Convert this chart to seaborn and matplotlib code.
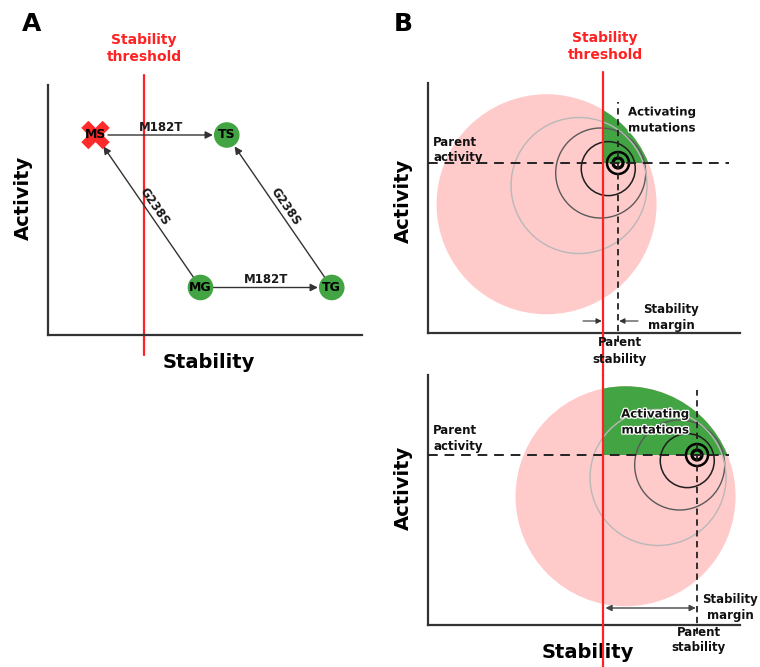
import numpy as np
import matplotlib
matplotlib.use("Agg")
import matplotlib.pyplot as plt
import matplotlib.patheffects as pe
from matplotlib.patches import Circle, Rectangle
import seaborn as sns

sns.set_style("white")
plt.rcParams['font.family'] = ['DejaVu Sans']
plt.rcParams['font.weight'] = 'bold'
plt.rcParams['text.color'] = 'black'

# ---- data (arbitrary stability / activity units) ----
node_names = ['MS', 'TS', 'MG', 'TG']
node_stability = [1.9, 7.15, 6.1, 11.35]
node_activity = [8.0, 8.0, 1.9, 1.9]
node_stable = [False, True, True, True]

edge_from = ['MS', 'MG', 'MG', 'TG']
edge_to = ['TS', 'TG', 'MS', 'TS']
edge_mutation = ['M182T', 'M182T', 'G238S', 'G238S']

threshold_A = 3.84
threshold_B = 7.0

parent_stability = [7.6, 10.76]
parent_activity = [6.8, 6.8]

# mutant distribution rings around the parent (radius, shift of centre)
ring_radius = [0.2, 0.44, 1.08, 1.8, 2.72]
ring_shift = [0.0, 0.0, 0.45, 0.8, 1.8]
spread_radius = 4.4
spread_shift = 3.3

RED = '#ff2222'
GREEN = '#42a442'
PINK = '#ffcaca'
DARK = '#333333'

W, H = 760, 667
PX = 25
fig = plt.figure(figsize=(7.6, 6.67), dpi=100)


def panel(left, bottom, width, height):
    ax = fig.add_axes([left / W, 1 - bottom / H, width / W, height / H])
    ax.set_xlim(0, width / PX)
    ax.set_ylim(0, height / PX)
    ax.set_xticks([])
    ax.set_yticks([])
    sns.despine(ax=ax)
    for s in ['left', 'bottom']:
        ax.spines[s].set_linewidth(1.6)
        ax.spines[s].set_color(DARK)
    ax.patch.set_visible(False)
    return ax


axA = panel(48, 335, 314, 250)
axB1 = panel(428, 333, 312, 250)
axB2 = panel(428, 625, 312, 250)

fig.text(32 / W, 1 - 24 / H, 'A', fontsize=18, ha='center', va='center')
fig.text(403 / W, 1 - 24 / H, 'B', fontsize=18, ha='center', va='center')

# ---- Panel A ----
nodes = {n: (x, y) for n, x, y in zip(node_names, node_stability, node_activity)}

axA.plot([threshold_A, threshold_A], [-0.8, 10.4], color=RED, lw=1.6,
         clip_on=False, zorder=2)
axA.text(threshold_A, 11.46, 'Stability\nthreshold', color=RED, fontsize=10,
         ha='center', va='center', linespacing=1.25)

st_x = [x for x, ok in zip(node_stability, node_stable) if ok]
st_y = [y for y, ok in zip(node_activity, node_stable) if ok]
un_x = [x for x, ok in zip(node_stability, node_stable) if not ok]
un_y = [y for y, ok in zip(node_activity, node_stable) if not ok]
sns.scatterplot(x=st_x, y=st_y, s=340, color=GREEN, edgecolor='none',
                ax=axA, zorder=4, clip_on=False)
sns.scatterplot(x=un_x, y=un_y, s=420, color='#ff2a2a', marker='X', edgecolor='none',
                ax=axA, zorder=4, clip_on=False)
for n, x, y in zip(node_names, node_stability, node_activity):
    axA.text(x, y, n, fontsize=9, ha='center', va='center', zorder=5)

for f, t, lab in zip(edge_from, edge_to, edge_mutation):
    x0, y0 = nodes[f]
    x1, y1 = nodes[t]
    axA.annotate('', xy=(x1, y1), xytext=(x0, y0),
                 arrowprops=dict(arrowstyle='-|>', color=DARK, lw=1.0,
                                 shrinkA=9, shrinkB=10, mutation_scale=11),
                 zorder=3)
    ang = np.degrees(np.arctan2(y1 - y0, x1 - x0))
    if ang > 90:
        ang -= 180
    elif ang < -90:
        ang += 180
    nx, ny = -np.sin(np.radians(ang)), np.cos(np.radians(ang))
    axA.annotate(lab, xy=((x0 + x1) / 2, (y0 + y1) / 2),
                 xytext=(nx * 5.5, ny * 5.5), textcoords='offset points',
                 fontsize=8.5, ha='center', va='center', rotation=ang,
                 rotation_mode='anchor', color='#1a1a1a', zorder=5)

axA.text(-1.0, 5.5, 'Activity', fontsize=14, rotation=90, ha='center', va='center')
axA.text(6.45, -1.12, 'Stability', fontsize=14, ha='center', va='center')


# ---- Panel B ----
u = np.array([np.cos(np.radians(210)), np.sin(np.radians(210))])


def draw_b(ax, ps, pa, vtop):
    cx, cy = ps + u[0] * spread_shift, pa + u[1] * spread_shift
    ax.add_patch(Circle((cx, cy), spread_radius, fc=PINK, ec='none', zorder=1))
    green = Circle((cx, cy), spread_radius, fc=GREEN, ec='none', zorder=1.5)
    ax.add_patch(green)
    green.set_clip_path(Rectangle((threshold_B, pa), 20, 20, transform=ax.transData))
    ring_col = ['black', 'black', '#1e1e1e', '#5a5a5a', '#b8b8b8']
    ring_lw = [2.3, 1.8, 1.1, 1.0, 1.0]
    for r, s, c, lw in zip(ring_radius, ring_shift, ring_col, ring_lw):
        ax.add_patch(Circle((ps + u[0] * s, pa + u[1] * s), r, fill=False,
                            ec=c, lw=lw, zorder=2))
    ax.plot([0, 12.05], [pa, pa], ls=(0, (5, 3.5)), color='#222222', lw=1.4, zorder=3)
    ax.plot([ps, ps], [-0.35, vtop], ls=(0, (3.5, 2.5)), color='#222222', lw=1.3,
            zorder=3, clip_on=False)


draw_b(axB1, parent_stability[0], parent_activity[0], 9.24)
draw_b(axB2, parent_stability[1], parent_activity[1], 9.4)

axB1.plot([threshold_B, threshold_B], [-1.7, 10.44], color=RED, lw=1.6,
          clip_on=False, zorder=4)
axB2.plot([threshold_B, threshold_B], [-1.7, 10.0], color=RED, lw=1.6,
          clip_on=False, zorder=4)
axB1.text(threshold_B + 0.08, 11.46, 'Stability\nthreshold', color=RED, fontsize=10,
          ha='center', va='center', linespacing=1.25)

halo = [pe.withStroke(linewidth=1.8, foreground='white')]
lab_kw = dict(fontsize=8.5, linespacing=1.3, zorder=6, color='#111111')

# top B
axB1.text(0.2, 7.32, 'Parent\nactivity', ha='left', va='center', **lab_kw)
axB1.text(8.0, 8.52, 'Activating\nmutations', ha='left', va='center',
          path_effects=halo, **lab_kw)
axB1.text(9.72, 0.6, 'Stability\nmargin', ha='center', va='center', **lab_kw)
axB1.text(7.68, -0.72, 'Parent\nstability', ha='center', va='center', **lab_kw)
axB1.annotate('', xy=(threshold_B - 0.05, 0.48), xytext=(threshold_B - 0.8, 0.48),
              arrowprops=dict(arrowstyle='-|>', color=DARK, lw=0.8, mutation_scale=8,
                              shrinkA=0, shrinkB=0))
axB1.annotate('', xy=(parent_stability[0] + 0.05, 0.48),
              xytext=(parent_stability[0] + 0.8, 0.48),
              arrowprops=dict(arrowstyle='-|>', color=DARK, lw=0.8, mutation_scale=8,
                              shrinkA=0, shrinkB=0))
axB1.text(-1.0, 5.3, 'Activity', fontsize=14, rotation=90, ha='center', va='center')

# bottom B
axB2.text(0.2, 7.48, 'Parent\nactivity', ha='left', va='center', **lab_kw)
axB2.text(9.08, 8.12, 'Activating\nmutations', ha='center', va='center',
          path_effects=halo, **lab_kw)
axB2.text(12.08, 0.68, 'Stability\nmargin', ha='center', va='center', **lab_kw)
axB2.text(10.84, -0.6, 'Parent\nstability', ha='center', va='center', **lab_kw)
axB2.annotate('', xy=(parent_stability[1] - 0.05, 0.68), xytext=(threshold_B + 0.1, 0.68),
              arrowprops=dict(arrowstyle='<|-|>', color='#444444', lw=1.0,
                              mutation_scale=9, shrinkA=0, shrinkB=0))
axB2.text(-1.0, 5.5, 'Activity', fontsize=14, rotation=90, ha='center', va='center')
axB2.text(6.4, -1.12, 'Stability', fontsize=14, ha='center', va='center')

fig.savefig('out.png', dpi=100)
